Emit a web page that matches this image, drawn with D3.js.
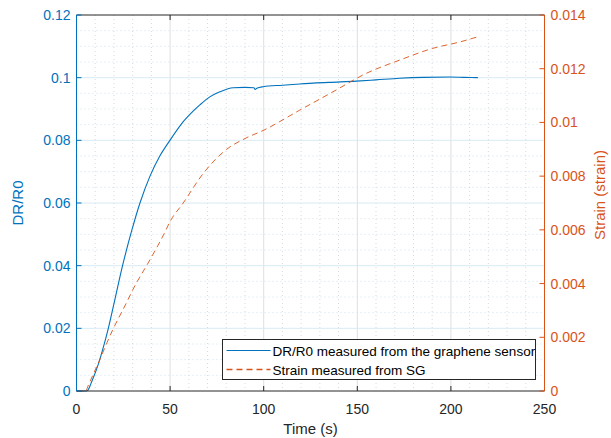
<!DOCTYPE html>
<html>
<head>
<meta charset="utf-8">
<script src="https://cdn.jsdelivr.net/npm/d3@7"></script>
<style>
  html, body { margin: 0; padding: 0; background: #fff; }
  svg { display: block; font-family: "Liberation Sans", Arial, sans-serif; }
</style>
</head>
<body>
<svg id="chart" width="611" height="438"></svg>
<script>
// DR/R0 from the graphene sensor (left axis)
const drTime = [0, 5, 6, 8, 11.8, 14.5, 17, 20.5, 24.6, 29.6, 33.9, 39.2, 44.5, 49.9, 56, 62.3, 65.9, 71, 76.6, 83.7, 90, 94.8, 95.4, 96.3, 99.7, 110, 119.3, 135, 149.5, 160, 172.6, 185, 199.3, 207, 214.4];
const drValue = [0, 0, 0.0002, 0.0028, 0.0088, 0.0143, 0.0200, 0.0292, 0.0400, 0.0514, 0.0600, 0.0685, 0.0750, 0.0800, 0.0852, 0.0893, 0.0913, 0.0938, 0.0955, 0.0968, 0.0969, 0.0968, 0.0962, 0.0966, 0.0971, 0.0976, 0.0980, 0.0985, 0.0989, 0.0993, 0.0998, 0.1001, 0.1002, 0.1001, 0.1000];

// strain measured from SG (right axis)
const sgTime = [0, 5, 6, 12, 19.3, 26.8, 30, 39.2, 46.9, 49.9, 57, 67.7, 80.2, 90, 99.7, 119.3, 137, 154.9, 172.6, 190.4, 205, 214.4];
const sgStrain = [0, 0, 0.00016, 0.0011, 0.00227, 0.0033, 0.00376, 0.00488, 0.00587, 0.0063, 0.0070, 0.0081, 0.0090, 0.0094, 0.0097, 0.01046, 0.01114, 0.01183, 0.01232, 0.01276, 0.0130, 0.01319];

const xTicks = [0, 50, 100, 150, 200, 250];
const leftTicks = [0, 0.02, 0.04, 0.06, 0.08, 0.1, 0.12];
const rightTicks = [0, 0.002, 0.004, 0.006, 0.008, 0.01, 0.012, 0.014];
const xMinor = d3.range(0, 251, 10).filter(v => v % 50 !== 0);
const leftMinor = d3.range(1, 24).map(i => i * 0.005).filter(v => Math.abs(v / 0.02 - Math.round(v / 0.02)) > 1e-6);

const legendLabels = ["DR/R0 measured from the graphene sensor", "Strain measured from SG"];

const BLUE = "#0072BD", ORANGE = "#D95319", DARK = "#262626";

const svg = d3.select("#chart");
const L = 76.5, R = 544.5, T = 15, B = 391;

const x = d3.scaleLinear().domain([0, 250]).range([L, R]);
const yL = d3.scaleLinear().domain([0, 0.12]).range([B, T]);
const yR = d3.scaleLinear().domain([0, 0.014]).range([B, T]);

const grid = svg.append("g");
// minor grid
xMinor.forEach(v => {
  grid.append("line").attr("x1", x(v)).attr("x2", x(v)).attr("y1", T).attr("y2", B)
    .attr("stroke", "#c8c8c8").attr("stroke-width", 0.7).attr("stroke-dasharray", "1 3");
});
leftMinor.forEach(v => {
  grid.append("line").attr("x1", L).attr("x2", R).attr("y1", yL(v)).attr("y2", yL(v))
    .attr("stroke", "#b9d5ea").attr("stroke-width", 0.7).attr("stroke-dasharray", "1 3");
});
// major grid
xTicks.slice(1, -1).forEach(v => {
  grid.append("line").attr("x1", x(v)).attr("x2", x(v)).attr("y1", T).attr("y2", B)
    .attr("stroke", "#dfdfdf").attr("stroke-width", 1);
});
leftTicks.slice(1, -1).forEach(v => {
  grid.append("line").attr("x1", L).attr("x2", R).attr("y1", yL(v)).attr("y2", yL(v))
    .attr("stroke", "#d9eaf5").attr("stroke-width", 1);
});

// data
const drLine = d3.line().x((d, i) => x(drTime[i])).y(d => yL(d)).curve(d3.curveMonotoneX);
svg.append("path").datum(drValue).attr("fill", "none").attr("stroke", BLUE)
  .attr("stroke-width", 1.1).attr("d", drLine);

const sgLine = d3.line().x((d, i) => x(sgTime[i])).y(d => yR(d)).curve(d3.curveMonotoneX);
svg.append("path").datum(sgStrain).attr("fill", "none").attr("stroke", ORANGE)
  .attr("stroke-width", 0.9).attr("stroke-dasharray", "6 4").attr("d", sgLine);

// box: top and bottom
svg.append("line").attr("x1", L).attr("x2", R).attr("y1", T).attr("y2", T).attr("stroke", DARK);
svg.append("line").attr("x1", L).attr("x2", R).attr("y1", B).attr("y2", B).attr("stroke", DARK);

// x ticks (bottom and top, inward)
xTicks.forEach(v => {
  svg.append("line").attr("x1", x(v)).attr("x2", x(v)).attr("y1", B).attr("y2", B - 5).attr("stroke", DARK);
  svg.append("line").attr("x1", x(v)).attr("x2", x(v)).attr("y1", T).attr("y2", T + 5).attr("stroke", DARK);
  svg.append("text").attr("x", x(v)).attr("y", 413.5).attr("text-anchor", "middle")
    .attr("font-size", 14).attr("fill", DARK).text(v);
});

// left axis
const fmt = d3.format("~g");
svg.append("line").attr("x1", L).attr("x2", L).attr("y1", T).attr("y2", B).attr("stroke", BLUE);
leftTicks.forEach(v => {
  svg.append("line").attr("x1", L).attr("x2", L + 5).attr("y1", yL(v)).attr("y2", yL(v)).attr("stroke", BLUE);
  svg.append("text").attr("x", 70.5).attr("y", yL(v) + 5).attr("text-anchor", "end")
    .attr("font-size", 14).attr("fill", BLUE).text(fmt(v));
});

// right axis
svg.append("line").attr("x1", R).attr("x2", R).attr("y1", T).attr("y2", B).attr("stroke", ORANGE);
rightTicks.forEach(v => {
  svg.append("line").attr("x1", R).attr("x2", R - 5).attr("y1", yR(v)).attr("y2", yR(v)).attr("stroke", ORANGE);
  svg.append("text").attr("x", 550.5).attr("y", yR(v) + 5).attr("text-anchor", "start")
    .attr("font-size", 14).attr("fill", ORANGE).text(fmt(v));
});

// axis labels
svg.append("text").attr("x", (L + R) / 2).attr("y", 433.5).attr("text-anchor", "middle")
  .attr("font-size", 15).attr("fill", DARK).text("Time (s)");
svg.append("text").attr("transform", `translate(23, ${(T + B) / 2}) rotate(-90)`)
  .attr("text-anchor", "middle").attr("font-size", 15).attr("fill", BLUE).text("DR/R0");
svg.append("text").attr("transform", `translate(605, 195) rotate(-90)`)
  .attr("text-anchor", "middle").attr("font-size", 15).attr("fill", ORANGE).text("Strain (strain)");

// legend
const lg = svg.append("g").attr("transform", "translate(222.5, 339.5)");
lg.append("rect").attr("width", 313).attr("height", 40).attr("fill", "#fff")
  .attr("stroke", DARK).attr("stroke-width", 1);
[[BLUE, null, 1.1], [ORANGE, "6 4", 1.6]].forEach(([c, dash, w], i) => {
  const yy = 11 + i * 19;
  const ln = lg.append("line").attr("x1", 4).attr("x2", 48).attr("y1", yy).attr("y2", yy)
    .attr("stroke", c).attr("stroke-width", w);
  if (dash) ln.attr("stroke-dasharray", dash);
  lg.append("text").attr("x", 50).attr("y", yy + 5).attr("font-size", 13.5)
    .attr("fill", "#000").text(legendLabels[i]);
});
</script>
</body>
</html>
